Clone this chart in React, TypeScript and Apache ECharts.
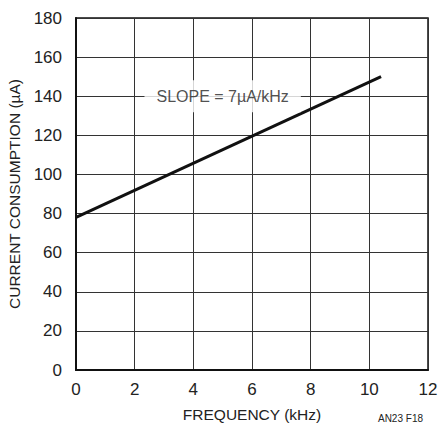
import React, { useEffect, useRef } from "react";
import * as echarts from "echarts";

const xTicks = [0, 2, 4, 6, 8, 10, 12];
const yTicks = [0, 20, 40, 60, 80, 100, 120, 140, 160, 180];
const lineX = [0, 10.4];
const lineY = [78, 150];
const annotationPos = [5, 140];
const annotationText = "SLOPE = 7µA/kHz";
const xTitle = "FREQUENCY (kHz)";
const yTitle = "CURRENT CONSUMPTION (µA)";
const figId = "AN23 F18";

const FONT = "'Liberation Sans', Arial, sans-serif";

export default function App() {
  const ref = useRef<HTMLDivElement>(null);
  useEffect(() => {
    if (!ref.current) return;
    const chart = echarts.init(ref.current, null, { renderer: "svg" });
    chart.setOption({
      animation: false,
      backgroundColor: "#fff",
      textStyle: { fontFamily: FONT },
      grid: {
        left: 76,
        top: 18,
        right: 10,
        bottom: 53,
        outerBoundsMode: "none",
        containLabel: false,
        show: true,
        borderColor: "#111",
        borderWidth: 1.5,
        backgroundColor: "transparent",
      },
      xAxis: {
        type: "value",
        min: xTicks[0],
        max: xTicks[xTicks.length - 1],
        interval: 2,
        name: xTitle,
        nameLocation: "middle",
        nameGap: 36,
        nameTextStyle: { fontFamily: FONT, fontSize: 15.5, color: "#222" },
        axisLine: { show: true, lineStyle: { color: "#111", width: 2 } },
        axisTick: { show: false },
        axisLabel: { fontFamily: FONT, fontSize: 17, color: "#222", margin: 11 },
        splitLine: { show: true, lineStyle: { color: "#333", width: 1 } },
      },
      yAxis: {
        type: "value",
        min: yTicks[0],
        max: yTicks[yTicks.length - 1],
        interval: 20,
        name: yTitle,
        nameLocation: "middle",
        nameGap: 51,
        nameTextStyle: { fontFamily: FONT, fontSize: 15.5, color: "#222" },
        axisLine: { show: true, lineStyle: { color: "#111", width: 2 } },
        axisTick: { show: false },
        axisLabel: { fontFamily: FONT, fontSize: 17, color: "#222", margin: 14 },
        splitLine: { show: true, lineStyle: { color: "#333", width: 1 } },
      },
      series: [
        {
          type: "line",
          data: lineX.map((x, i) => [x, lineY[i]]),
          showSymbol: false,
          symbol: "none",
          lineStyle: { color: "#111", width: 3 },
          z: 3,
        },
        {
          type: "scatter",
          data: [annotationPos],
          symbolSize: 0,
          z: 4,
          label: {
            show: true,
            position: "inside",
            formatter: annotationText,
            fontFamily: FONT,
            fontSize: 16,
            color: "#222",
            backgroundColor: "#fff",
            padding: [8, 12],
          },
        },
      ],
      graphic: [
        {
          type: "text",
          right: 15,
          bottom: 0,
          style: { text: figId, fontFamily: FONT, fontSize: 10, fill: "#222" },
        },
      ],
    });
    return () => chart.dispose();
  }, []);
  return (
    <div
      ref={ref}
      style={{ position: "fixed", left: 0, top: 0, width: 438, height: 423 }}
    />
  );
}
